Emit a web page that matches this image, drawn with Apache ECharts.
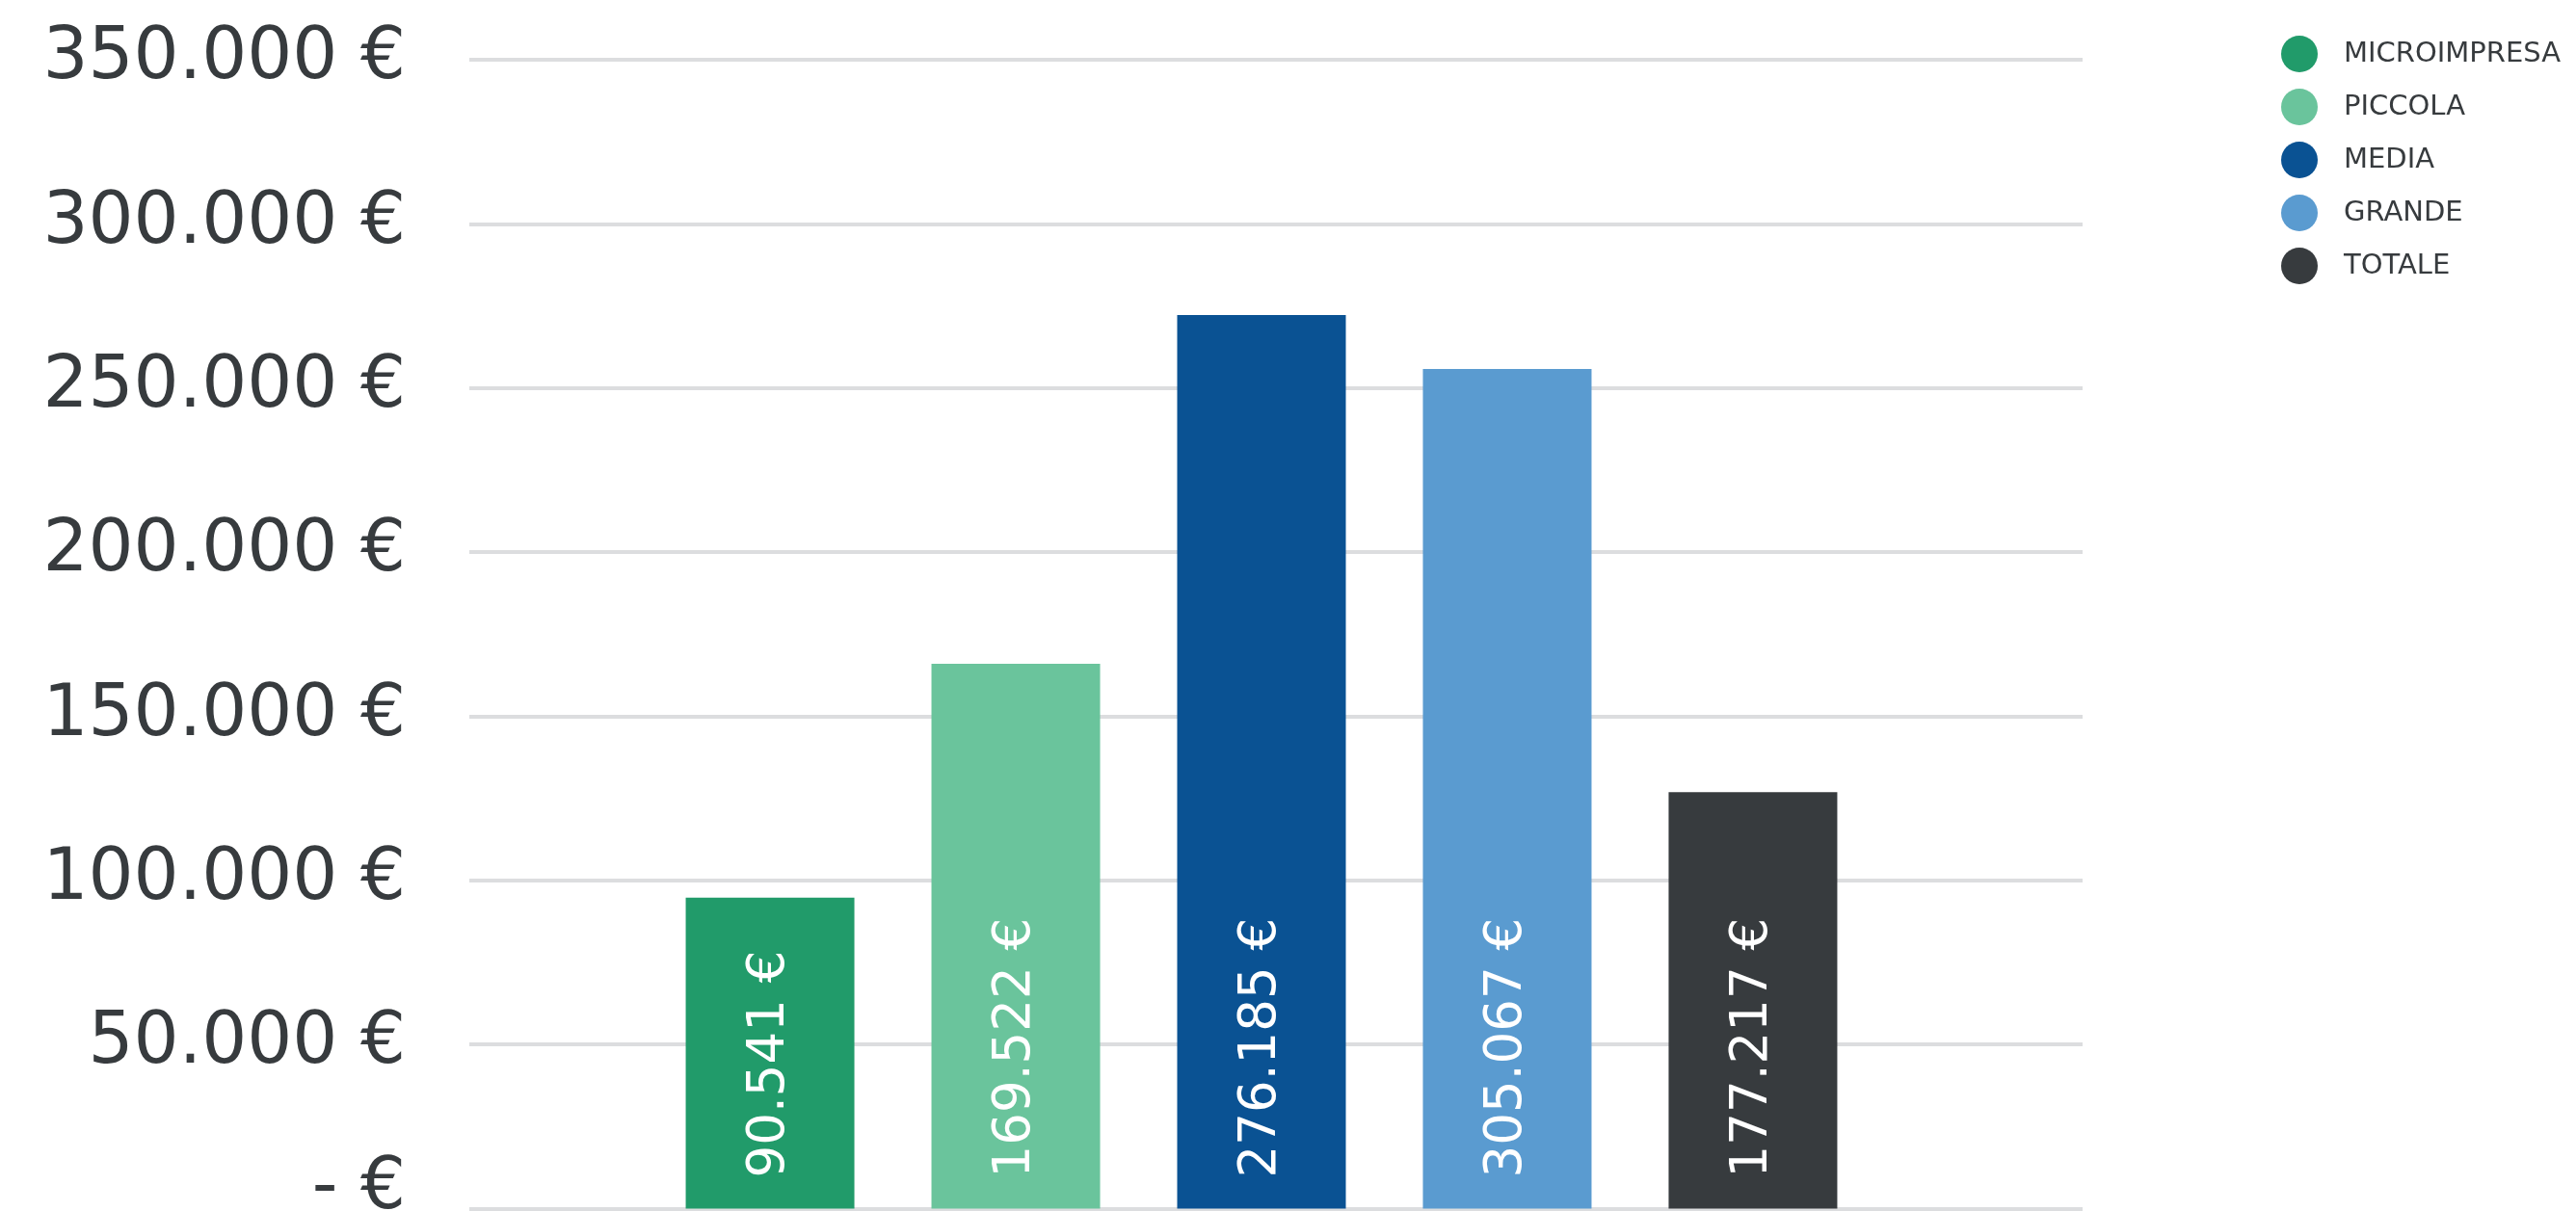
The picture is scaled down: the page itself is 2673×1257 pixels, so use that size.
<!DOCTYPE html>
<html>
<head>
<meta charset="utf-8">
<script src="https://cdn.jsdelivr.net/npm/echarts@6/dist/echarts.min.js"></script>
<style>
  html, body { margin: 0; padding: 0; background: #fff; }
  #output { width: 2673px; height: 1257px; }
</style>
</head>
<body>
<div id="output"></div>
<script>
const chart = echarts.init(document.getElementById('output'));

// dimensioni d'impresa (una serie ciascuna)
const classi = ['MICROIMPRESA', 'PICCOLA', 'MEDIA', 'GRANDE', 'TOTALE']
const colori = ['#219b6a', '#6ac49c', '#0a5293', '#5a9bd0', '#373b3e']
const altezze = [94700, 166000, 272200, 255800, 126900]
// etichette scritte dentro le barre
const etichette = ['90.541 €', '169.522 €', '276.185 €', '305.067 €', '177.217 €']
// asse y
const yMax = 350000
const yStep = 50000

const testo = '#373b3e'

function euro (v) {
  // lo zero sta sul bordo del grafico: lo alzo un po'
  if (v === 0) return '{z|- €}'
  return String(v).replace(/\B(?=(\d{3})+(?!\d))/g, '.') + ' €'
}

const series = classi.map((nome, i) => ({
  name: nome,
  type: 'bar',
  xAxisIndex: 1,
  yAxisIndex: 1,
  barWidth: 175,
  barGap: '45.7%',
  itemStyle: { color: colori[i] },
  label: {
    show: true,
    position: 'insideBottom',
    rotate: 90,
    align: 'left',
    verticalAlign: 'middle',
    distance: 32,
    color: '#fff',
    fontFamily: 'DejaVu Sans',
    fontSize: 53,
    formatter: () => etichette[i]
  },
  data: [altezze[i]]
}))

chart.setOption({
  backgroundColor: '#fff',
  animation: false,
  legend: {
    orient: 'vertical',
    left: 2362,
    top: 32,
    icon: 'circle',
    itemWidth: 38,
    itemHeight: 38,
    itemGap: 17,
    textStyle: {
      color: testo,
      fontFamily: 'DejaVu Sans',
      fontSize: 29,
      padding: [0, 0, 0, 22]
    },
    data: classi
  },
  grid: [
    { left: 487, right: 512, top: 62, bottom: 2.5, outerBoundsMode: 'none', containLabel: false },
    { left: 457, right: 512, top: 62, bottom: 2.5, outerBoundsMode: 'none', containLabel: false }
  ],
  xAxis: [
    { type: 'category', gridIndex: 0, data: [''], show: false },
    { type: 'category', gridIndex: 1, data: [''], show: false }
  ],
  yAxis: [
    {
      type: 'value',
      gridIndex: 0,
      min: 0,
      max: yMax,
      interval: yStep,
      axisLine: { show: false },
      axisTick: { show: false },
      splitLine: { lineStyle: { color: '#dcdddf', width: 4 } },
      axisLabel: {
        margin: 66,
        color: testo,
        fontFamily: 'DejaVu Sans',
        fontSize: 74,
        formatter: euro,
        rich: {
          z: {
            color: testo,
            fontFamily: 'DejaVu Sans',
            fontSize: 74,
            padding: [0, 0, 40, 0]
          }
        }
      }
    },
    {
      type: 'value',
      gridIndex: 1,
      min: 0,
      max: yMax,
      interval: yStep,
      show: false,
      splitLine: { show: false }
    }
  ],
  series
})
</script>
</body>
</html>
